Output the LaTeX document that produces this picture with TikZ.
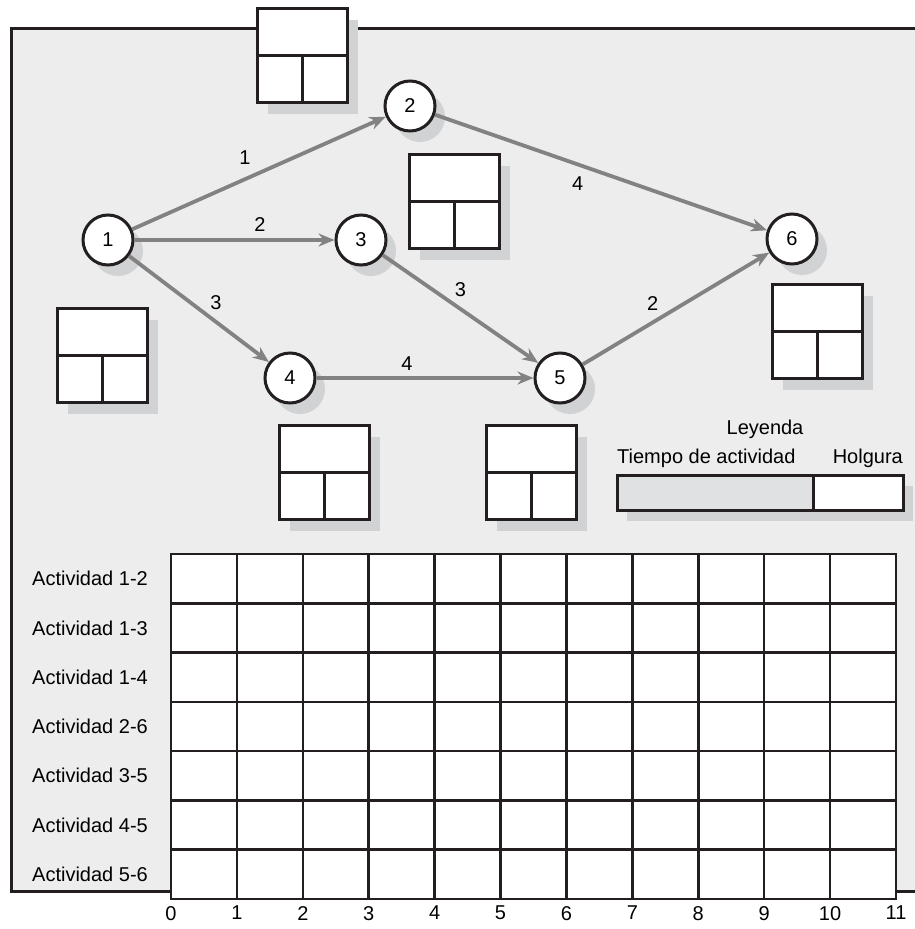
\documentclass[tikz,border=0pt]{standalone}
\usepackage{fontspec}
\setmainfont{Liberation Sans}
\usetikzlibrary{arrows.meta, shadows}

\definecolor{fondo}{HTML}{EDEDED}
\definecolor{sombra}{HTML}{D1D2D4}
\definecolor{gris}{HTML}{828282}
\definecolor{tinta}{HTML}{231F20}
\definecolor{relleno}{HTML}{E0E1E3}

\begin{document}
\begin{tikzpicture}[x=1pt, y=-1pt,
        font=\fontsize{20}{24}\selectfont,
        sombreado/.style={drop shadow={shadow xshift=10pt, shadow yshift=-11pt,
                          fill=sombra, opacity=1}},
        evento/.style={circle, draw=tinta, line width=3pt, fill=white,
                       minimum size=50pt, inner sep=0pt, sombreado},
        cuadro/.style={rectangle, draw=tinta, line width=3pt, fill=white,
                       minimum width=90pt, minimum height=94pt, inner sep=0pt, sombreado},
        barra/.style={rectangle, draw=tinta, line width=3pt, minimum height=35pt,
                      inner sep=0pt, sombreado},
        linea/.style={draw=tinta, line width=3pt},
        rejilla/.style={draw=tinta, line width=2.5pt, line cap=rect},
        flecha/.style={-{Stealth[length=16pt, width=13pt]}, line width=3.8pt, draw=gris},
        etiq/.style={inner sep=0pt}]
      \useasboundingbox (0,0) rectangle (915,929);
      \draw[linea, fill=fondo] (11,28) rectangle (940,891);

      % cuadros de tiempos
      \node[cuadro] (c2) at (302.5,55.5) {};
      \node[cuadro] (c1) at (102.5,355.5) {};
      \node[cuadro] (c3) at (454.5,201.5) {};
      \node[cuadro] (c6) at (817.5,331.5) {};
      \node[cuadro] (c4) at (324.5,472.5) {};
      \node[cuadro] (c5) at (531.5,472.5) {};
      \foreach \c in {c1,c2,c3,c4,c5,c6} {
        \draw[linea] (\c.west) -- (\c.east);
        \draw[linea] (\c.center) -- (\c.south);
      }

      % red de actividades
      \node[evento] (e1) at (108,240) {1};
      \node[evento] (e2) at (410,106) {2};
      \node[evento] (e3) at (361,240) {3};
      \node[evento] (e4) at (290,378) {4};
      \node[evento] (e5) at (560,378) {5};
      \node[evento] (e6) at (792,239) {6};
      \draw[flecha] (e1) -- node[etiq, pos=.476, shift={(-8,-18)}] (t12) {1} (e2);
      \draw[flecha] (e1) -- node[etiq, pos=.627, shift={(0,-15)}] (t13) {2} (e3);
      \draw[flecha] (e1) -- node[etiq, pos=.557, shift={(9,-12)}] (t14) {3} (e4);
      \draw[flecha] (e2) -- node[etiq, pos=.448, shift={(-6,17)}] (t26) {4} (e6);
      \draw[flecha] (e3) -- node[etiq, pos=.441, shift={(9,-13)}] (t35) {3} (e5);
      \draw[flecha] (e4) -- node[etiq, pos=.417, shift={(0,-14)}] (t45) {4} (e5);
      \draw[flecha] (e5) -- node[etiq, pos=.423, shift={(-9,-14)}] (t56) {2} (e6);

      % leyenda
      \node[etiq, anchor=base] (ley) at (765,434) {Leyenda};
      \node[barra, fill=relleno, minimum width=196pt] (tiempo) at (715,492.5) {};
      \node[barra, fill=white, minimum width=90pt] (holg) at (858,492.5) {};
      \node[etiq, anchor=base west] (ttiempo) at ([xshift=1.5pt, yshift=10pt]tiempo.north west) {Tiempo de actividad};
      \node[etiq, anchor=base east] (tholg) at ([xshift=-1.5pt, yshift=10pt]holg.north east) {Holgura};

      % diagrama de Gantt
      \fill[white] (171,554) rectangle (896,899);
      \foreach \i in {0,...,11} {
        \draw[rejilla] ({171+\i*65.909},554) -- ({171+\i*65.909},899);
        \node[etiq, anchor=north] (eje-\i) at ({171+\i*65.909},906) {\i};
      }
      \foreach \j in {0,...,7}
        \draw[rejilla] (171,{554+\j*49.286}) -- (896,{554+\j*49.286});
      \foreach \a [count=\j] in {1-2,1-3,1-4,2-6,3-5,4-5,5-6}
        \node[etiq, anchor=west] (act-\j) at (32,{554+(\j-0.5)*49.286}) {Actividad \a};
    \end{tikzpicture}
\end{document}
